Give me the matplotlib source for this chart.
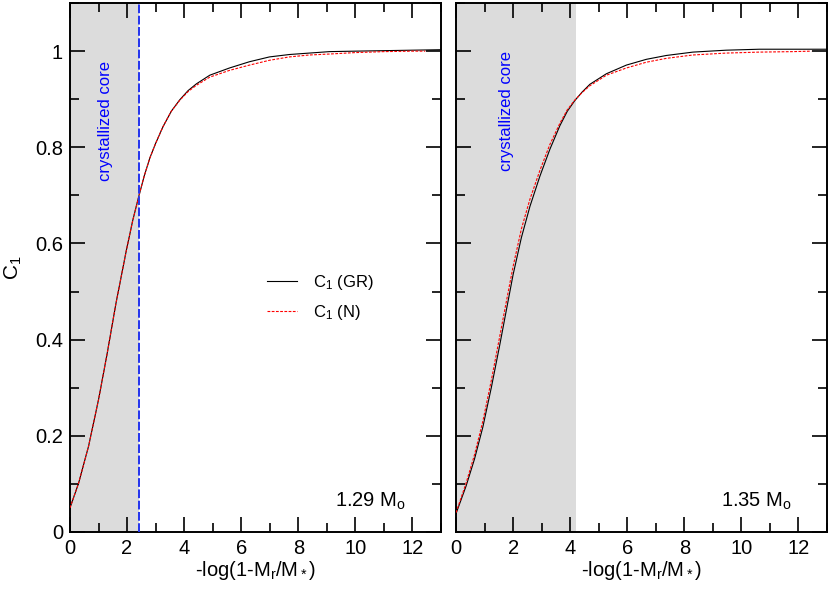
import matplotlib
matplotlib.use('Agg')
import matplotlib.pyplot as plt
from matplotlib.ticker import MultipleLocator

plt.rcParams['font.family'] = ['Liberation Sans', 'DejaVu Sans']
plt.rcParams['mathtext.fontset'] = 'custom'
plt.rcParams['mathtext.rm'] = 'Liberation Sans'
plt.rcParams['mathtext.it'] = 'Liberation Sans:italic'
plt.rcParams['mathtext.bf'] = 'Liberation Sans:bold'

# 1.29 Msun model
x_129_gr = [0.0, 0.3, 0.65, 1.0, 1.3, 1.61, 1.98, 2.2, 2.42, 2.6, 2.8, 3.0, 3.26,
            3.55, 3.85, 4.14, 4.43, 4.9, 5.59, 6.29, 6.99, 7.69, 8.39, 9.09,
            10.0, 11.0, 12.0, 13.0]
c1_129_gr = [0.050, 0.101, 0.178, 0.275, 0.370, 0.475, 0.587, 0.648, 0.700, 0.740,
             0.778, 0.808, 0.843, 0.875, 0.899, 0.918, 0.932, 0.950, 0.965, 0.978,
             0.988, 0.993, 0.996, 0.999, 1.000, 1.001, 1.002, 1.003]
x_129_n = [0.0, 0.3, 0.65, 1.0, 1.3, 1.61, 1.98, 2.2, 2.42, 2.6, 2.8, 3.0, 3.26,
           3.55, 3.85, 4.14, 4.43, 4.9, 5.59, 6.29, 6.99, 7.69, 8.39, 9.09,
           10.0, 11.0, 12.0, 12.45]
c1_129_n = [0.050, 0.101, 0.178, 0.275, 0.370, 0.475, 0.587, 0.648, 0.700, 0.740,
            0.778, 0.808, 0.843, 0.875, 0.898, 0.916, 0.929, 0.946, 0.960, 0.971,
            0.981, 0.988, 0.992, 0.994, 0.997, 0.999, 1.000, 1.000]
core_129 = 2.42

# 1.35 Msun model
x_135_gr = [0.0, 0.35, 0.65, 0.94, 1.24, 1.53, 1.76, 2.0, 2.29, 2.59, 2.94, 3.29,
            3.64, 3.9, 4.16, 4.42, 4.69, 5.27, 5.97, 6.67, 7.37, 8.3, 9.47, 10.63,
            11.8, 13.0]
c1_135_gr = [0.038, 0.095, 0.152, 0.218, 0.301, 0.388, 0.460, 0.535, 0.612, 0.677,
             0.740, 0.796, 0.845, 0.875, 0.897, 0.915, 0.931, 0.953, 0.971, 0.983,
             0.991, 0.998, 1.002, 1.004, 1.004, 1.004]
x_135_n = [0.0, 0.35, 0.65, 0.94, 1.24, 1.53, 1.76, 2.0, 2.29, 2.59, 2.94, 3.29,
           3.64, 3.9, 4.16, 4.42, 4.69, 5.27, 5.97, 6.67, 7.37, 8.3, 9.47, 10.63,
           11.8, 12.45]
c1_135_n = [0.040, 0.101, 0.161, 0.230, 0.316, 0.406, 0.478, 0.552, 0.630, 0.692,
            0.752, 0.806, 0.850, 0.878, 0.898, 0.914, 0.928, 0.950, 0.965, 0.977,
            0.985, 0.992, 0.996, 0.998, 0.999, 1.000]
core_135 = 4.2

fig = plt.figure(figsize=(8.3, 5.89), dpi=100)
ax1 = fig.add_axes([0.0843, 0.0968, 0.447, 0.898])
ax2 = fig.add_axes([0.5494, 0.0968, 0.447, 0.898])

xlabel = '-log(1-M$_\\mathrm{r}$/M$_*$)'

panels = [
    (ax1, x_129_gr, c1_129_gr, x_129_n, c1_129_n, core_129, '1.29 M$_\\mathrm{o}$', 1.26, 0.855),
    (ax2, x_135_gr, c1_135_gr, x_135_n, c1_135_n, core_135, '1.35 M$_\\mathrm{o}$', 1.77, 0.875),
]

for ax, xg, yg, xn, yn, core, mlabel, tx, ty in panels:
    ax.axvspan(0, core, color='#dcdcdc', lw=0, zorder=0)
    ax.plot(xg, yg, color='black', lw=0.8, label='C$_1$ (GR)', zorder=3)
    ax.plot(xn, yn, color='red', lw=0.8, ls=(0, (2.5, 1.3)), label='C$_1$ (N)', zorder=4)
    ax.text(tx, ty, 'crystallized core', color='blue', fontsize=12,
            rotation=90, ha='center', va='center')
    ax.text(0.905, 0.048, mlabel, transform=ax.transAxes, fontsize=14.5,
            ha='right', va='baseline')
    ax.set_xlim(0, 13)
    ax.set_ylim(0, 1.1)
    ax.xaxis.set_major_locator(MultipleLocator(2))
    ax.xaxis.set_minor_locator(MultipleLocator(1))
    ax.yaxis.set_major_locator(MultipleLocator(0.2))
    ax.yaxis.set_minor_locator(MultipleLocator(0.1))
    ax.tick_params(which='both', direction='in', top=True, right=True,
                   labelsize=14.5, width=1.2)
    ax.tick_params(which='major', length=10.5, pad=5)
    ax.tick_params(which='minor', length=6.5)
    for s in ax.spines.values():
        s.set_linewidth(1.4)
    ax.set_xlabel(xlabel, fontsize=14.5, labelpad=1)

ax1.set_yticks([0, 0.2, 0.4, 0.6, 0.8, 1.0])
ax1.set_yticklabels(['0', '0.2', '0.4', '0.6', '0.8', '1'])
ax1.set_ylabel('C$_1$', fontsize=15, labelpad=8)
ax2.tick_params(labelleft=False)

ax1.axvline(core_129, color='#2233ee', lw=1.4, ls=(0, (4.5, 1.3)), zorder=5)

ax1.legend(loc='center left', bbox_to_anchor=(0.53, 0.4435), frameon=False,
           fontsize=12, handlelength=1.8, handletextpad=1.0, labelspacing=0.7,
           borderaxespad=0, borderpad=0)

fig.savefig('out.png', dpi=100)
